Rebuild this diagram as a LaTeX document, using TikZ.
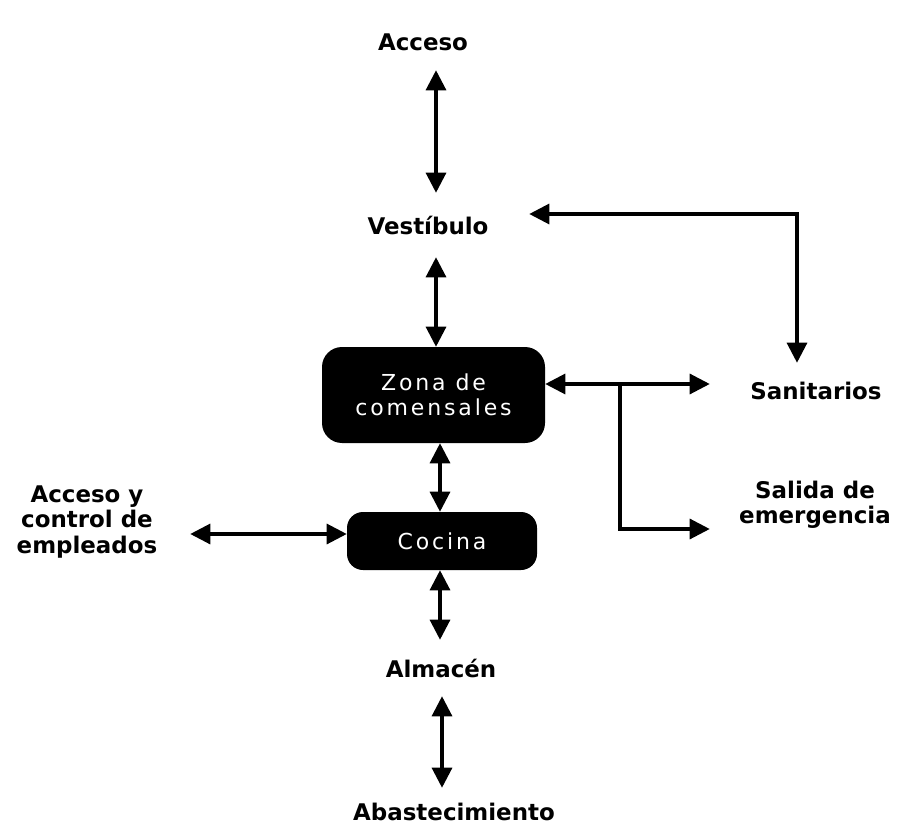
\documentclass[tikz,border=0pt]{standalone}
\usepackage{fontspec}
\setmainfont{DejaVu Sans}
\newfontfamily\boxfont[LetterSpace=13]{DejaVu Sans}
\usetikzlibrary{arrows.meta}

\begin{document}
\begin{tikzpicture}[x=0.75pt,y=-0.75pt,
  lbl/.style={font=\fontsize{17.2}{18.8}\selectfont\bfseries, align=center,
              inner sep=0pt, text=black},
  room/.style={fill=black, text=white, align=center, inner sep=0pt,
               font=\boxfont\fontsize{16.5}{18.8}\selectfont},
  link/.style={line width=2.3pt, {Triangle[length=15pt,width=15pt]}-{Triangle[length=15pt,width=15pt]}},
  oneway/.style={line width=2.3pt, -{Triangle[length=15pt,width=15pt]}}]

\useasboundingbox (0,0) rectangle (899,827);

% areas
\node[lbl, minimum height=42pt] (acc) at (423,42) {Acceso};
\node[lbl, minimum width=151.5pt, minimum height=48pt] (ves) at (428,225) {Vestíbulo};
\node[room, rounded corners=15pt, minimum width=167.25pt, minimum height=72pt]
  (zona) at (433.5,395) {Zona de\\comensales};
\node[lbl, minimum width=159pt, minimum height=41.25pt] (san) at (816,390.5) {Sanitarios};
\node[lbl, minimum width=157.5pt, minimum height=45pt] (sal) at (815,505) {Salida de\\emergencia};
\node[room, rounded corners=12pt, minimum width=142.5pt, minimum height=43.5pt]
  (coc) at (442,541) {Cocina};
\node[lbl, minimum width=154.5pt] (emp) at (87,522) {Acceso y\\control de\\empleados};
\node[lbl, minimum height=42pt] (alm) at (441,668) {Almacén};
\node[lbl, minimum height=36pt] (aba) at (454,812) {Abastecimiento};

% circulation
\draw[link] (436,0 |- acc.south) -- (436,0 |- ves.north);
\draw[link] (ves.east |- 0,214) -| (797,0 |- san.north);
\draw[link] (436,0 |- ves.south) -- (436,0 |- zona.north);
\coordinate (zr) at (zona.east |- 0,384);
\draw[link] (zr) -- (san.west |- zr);
\coordinate (br) at (620,0 |- zr);
\draw[oneway] (br) |- (sal.west |- 0,529);
\draw[link] (440,0 |- zona.south) -- (440,0 |- coc.north);
\draw[link] (emp.east |- 0,534) -- (coc.west |- 0,534);
\draw[link] (440,0 |- coc.south) -- (440,0 |- alm.north);
\draw[link] (442,0 |- alm.south) -- (442,0 |- aba.north);
\end{tikzpicture}
\end{document}
